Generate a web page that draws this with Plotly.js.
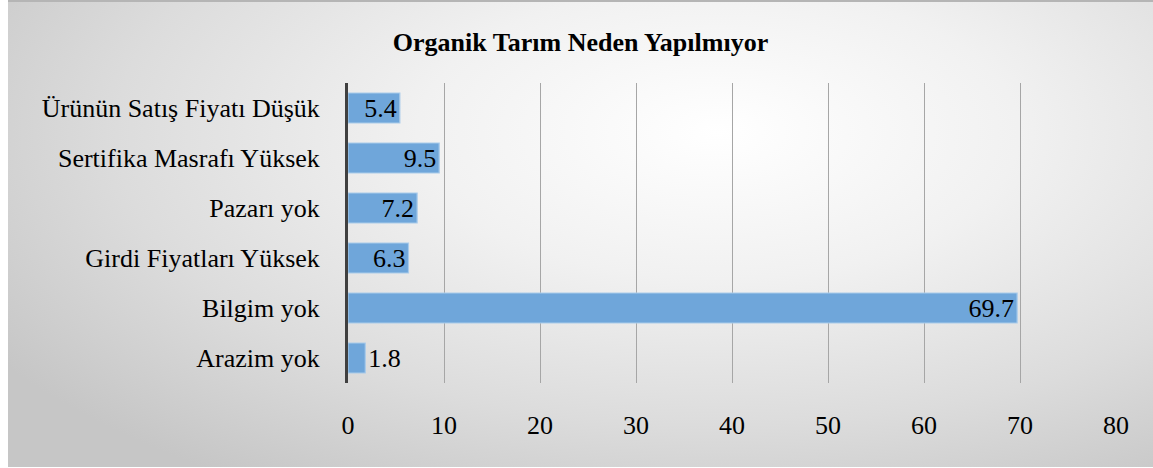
<!DOCTYPE html>
<html>
<head>
<meta charset="utf-8">
<script src="https://cdn.plot.ly/plotly-3.0.1.min.js"></script>
<style>
  html, body { margin: 0; padding: 0; background: #ffffff; width: 1153px; height: 468px; overflow: hidden; }
  #bg { position: absolute; left: 8px; top: 0px; width: 1145px; height: 467px;
        border-top: 2px solid #b5b5b5; box-sizing: border-box;
        background: radial-gradient(ellipse 75% 90% at 62% 28%, #ffffff 0%, #f1f1f1 35%, #dcdcdc 70%, #c6c6c6 100%); }
  #chart { position: absolute; left: 0; top: 0; width: 1153px; height: 468px; }
</style>
</head>
<body>
<div id="bg"></div>
<div id="chart"></div>
<script>
const categories = ["Arazim yok", "Bilgim yok", "Girdi Fiyatları Yüksek", "Pazarı yok", "Sertifika Masrafı Yüksek", "Ürünün Satış Fiyatı Düşük"];
const values = [1.8, 69.7, 6.3, 7.2, 9.5, 5.4];
const labels = ["1.8", "69.7", "6.3", "7.2", "9.5", "5.4"];
const xTicks = [0, 10, 20, 30, 40, 50, 60, 70, 80];
const chartTitle = "Organik Tarım Neden Yapılmıyor";

const serif = "Liberation Serif";
const fs = 26;

const trace = {
  type: "bar",
  orientation: "h",
  x: values,
  y: categories,
  text: labels,
  textposition: values.map(v => v < 3 ? "outside" : "inside"),
  insidetextanchor: "end",
  textangle: 0,
  constraintext: "none",
  cliponaxis: false,
  textfont: { family: serif, size: fs, color: "#000000" },
  marker: { color: "#6fa6da", line: { color: "#a9cbea", width: 1.2 } },
  width: 0.6,
  hoverinfo: "skip"
};

const layout = {
  width: 1153,
  height: 468,
  paper_bgcolor: "rgba(0,0,0,0)",
  plot_bgcolor: "rgba(0,0,0,0)",
  margin: { l: 348, r: 37, t: 83, b: 85 },
  font: { family: serif, color: "#000000" },
  title: {
    text: chartTitle,
    font: { family: serif, size: fs, color: "#000000", weight: "bold" },
    x: 0.5035, xanchor: "center",
    y: 0.91, yanchor: "middle"
  },
  showlegend: false,
  bargap: 0.4,
  xaxis: {
    range: [0, 80],
    tickvals: xTicks,
    ticktext: xTicks.map(String),
    showgrid: true,
    gridcolor: "#a6a6a6",
    zeroline: false,
    showline: false,
    ticks: "",
    ticklabelstandoff: 24,
    tickfont: { family: serif, size: fs, color: "#000000" },
    fixedrange: true
  },
  yaxis: {
    categoryorder: "array",
    categoryarray: categories,
    showgrid: false,
    zeroline: false,
    showline: true,
    linecolor: "#404040",
    linewidth: 3,
    ticks: "",
    ticklabelstandoff: 20,
    tickfont: { family: serif, size: fs, color: "#000000" },
    fixedrange: true
  }
};

Plotly.newPlot("chart", [trace], layout, { displayModeBar: false, staticPlot: true });
</script>
</body>
</html>
